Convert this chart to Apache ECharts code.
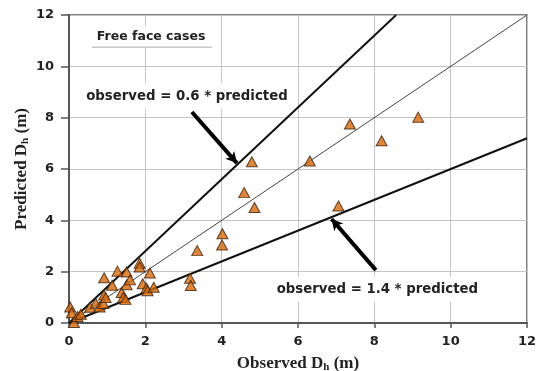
<!DOCTYPE html>
<html><head><meta charset="utf-8">
<script src="https://cdn.jsdelivr.net/npm/echarts@6/dist/echarts.min.js"></script>
<style>html,body{margin:0;padding:0;background:#fff}#c{width:539px;height:371px}</style>
</head><body><div id="c"></div>
<script>
// Observed D_h (m)
const observed = [0.03,0.07,0.13,0.22,0.31,0.55,0.70,0.80,0.90,0.92,0.96,0.92,1.13,1.27,1.38,1.42,1.48,1.51,1.51,1.60,1.85,1.85,2.12,1.93,2.03,2.06,2.22,3.17,3.19,3.36,4.02,4.01,4.59,4.86,4.79,6.31,7.36,8.19,9.15,7.06];
// Predicted D_h (m)
const predicted = [0.62,0.40,0.02,0.25,0.34,0.61,0.77,0.62,0.76,1.09,0.99,1.76,1.47,2.02,1.19,0.99,0.92,1.99,1.49,1.68,2.33,2.18,1.95,1.53,1.36,1.26,1.39,1.74,1.46,2.82,3.48,3.04,5.08,4.50,6.28,6.31,7.75,7.10,8.02,4.56];
// reference lines: predicted = slope * observed
const slopes = [1.4, 1.0, 0.6];
const axisTicks = [0,2,4,6,8,10,12];
const labels = ['Free face cases','observed = 0.6 * predicted','observed = 1.4 * predicted'];

const chart = echarts.init(document.getElementById('c'));
const AX_MAX = 12;
function lineData(s){ const xe = Math.min(AX_MAX, AX_MAX/s); return [[0,0],[xe, s*xe]]; }
const axisCommon = {
  min: axisTicks[0], max: axisTicks[axisTicks.length-1], interval: axisTicks[1]-axisTicks[0],
  axisLine: {show:true, onZero:false, lineStyle:{color:'#555', width:2}},
  axisTick: {show:true, length:8, lineStyle:{color:'#555', width:1.5}},
  splitLine: {show:true, lineStyle:{color:'#c4c4c4', width:1}},
  axisLabel: {color:'#222', fontFamily:'DejaVu Sans', fontWeight:'bold', fontSize:13}
};
const nameRich = {
  a:{fontFamily:'Liberation Serif', fontWeight:'bold', fontSize:17, color:'#222'},
  s:{fontFamily:'Liberation Serif', fontWeight:'bold', fontSize:11, color:'#222', verticalAlign:'bottom', padding:[8,0,0,0]}
};
const opt = {
  animation:false,
  grid:{left:69, right:12, top:15, bottom:48, outerBoundsMode:'none', containLabel:false, show:true, borderColor:'#555', borderWidth:1.5, backgroundColor:'transparent'},
  xAxis: Object.assign({}, axisCommon, {type:'value', name:'{a|Observed D}{s|h}{a| (m)}', nameLocation:'middle', nameGap:31, nameMoveOverlap:false,
    nameTextStyle:{rich:nameRich}, axisLabel:Object.assign({}, axisCommon.axisLabel, {margin:12}), axisTick:{show:true,length:5,lineStyle:{color:'#555',width:1.5}}}),
  yAxis: Object.assign({}, axisCommon, {type:'value', name:'{a|Predicted D}{s|h}{a| (m)}', nameLocation:'middle', nameGap:38, nameMoveOverlap:false,
    nameTextStyle:{rich:nameRich}, axisLabel:Object.assign({}, axisCommon.axisLabel, {margin:15})}),
  series:[
    {type:'line', data:lineData(slopes[0]), symbol:'none', lineStyle:{color:'#111', width:2}, z:3,
      markLine:{silent:true, symbol:['none','arrow'], symbolSize:[9,11], lineStyle:{color:'#000', width:4, type:'solid'}, label:{show:false},
        data:[[{coord:[3.22,8.22]},{coord:[4.40,6.23]}],[{coord:[8.04,2.06]},{coord:[6.88,4.05]}]]}},
    {type:'line', data:lineData(slopes[1]), symbol:'none', lineStyle:{color:'#444', width:1}, z:3},
    {type:'line', data:lineData(slopes[2]), symbol:'none', lineStyle:{color:'#111', width:2}, z:3},
    {type:'scatter', data:observed.map((x,i)=>[x,predicted[i]]), symbol:'triangle', symbolSize:[11,10],
      itemStyle:{color:'#d4690f', borderColor:'#3b1f05', borderWidth:1}, z:5}
  ]
};
chart.setOption(opt);
function px(p){ return chart.convertToPixel({gridIndex:0}, p); }
const t0 = px([2.15,11.14]), t1 = px([3.09,8.84]), t2 = px([8.08,1.32]);
const lx0 = px([0.6,10.75]), lx1 = px([3.74,10.75]);
chart.setOption({graphic:[
  {type:'text', x:t0[0], y:t0[1], z:1, style:{text:labels[0], fill:'#222', font:'bold 12.5px "DejaVu Sans"', align:'center', verticalAlign:'middle', backgroundColor:'#fff', padding:[4,6]}},
  {type:'line', z:1, shape:{x1:lx0[0], y1:lx0[1], x2:lx1[0], y2:lx1[1]}, style:{stroke:'#aaa', lineWidth:1}},
  {type:'text', x:t1[0], y:t1[1], z:1, style:{text:labels[1], fill:'#222', font:'bold 13.3px "DejaVu Sans"', align:'center', verticalAlign:'middle', backgroundColor:'#fff', padding:[6,3]}},
  {type:'text', x:t2[0], y:t2[1], z:1, style:{text:labels[2], fill:'#222', font:'bold 13.3px "DejaVu Sans"', align:'center', verticalAlign:'middle', backgroundColor:'#fff', padding:[6,3]}}
]});
</script></body></html>
